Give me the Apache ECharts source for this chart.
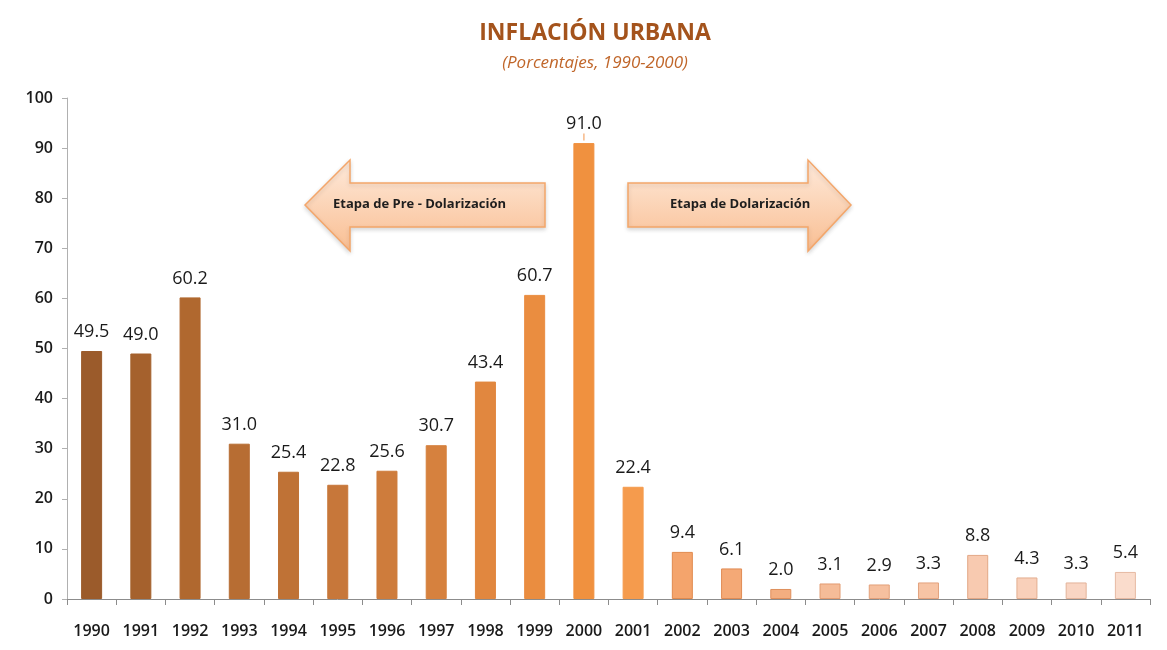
<!DOCTYPE html>
<html>
<head>
<meta charset="utf-8">
<script src="https://cdn.jsdelivr.net/npm/echarts@6/dist/echarts.min.js"></script>
<style>
  html, body { margin: 0; padding: 0; background: #fff; }
  #chart { width: 1167px; height: 650px; }
</style>
</head>
<body>
<div id="chart"></div>
<script>
// datos
var years = ["1990", "1991", "1992", "1993", "1994", "1995", "1996", "1997", "1998", "1999", "2000",
  "2001", "2002", "2003", "2004", "2005", "2006", "2007", "2008", "2009", "2010", "2011"];
var inflacion = [49.5, 49.0, 60.2, 31.0, 25.4, 22.8, 25.6, 30.7, 43.4, 60.7, 91.0,
  22.4, 9.4, 6.1, 2.0, 3.1, 2.9, 3.3, 8.8, 4.3, 3.3, 5.4];
var yTicks = [0, 10, 20, 30, 40, 50, 60, 70, 80, 90, 100];

// colores de cada barra (de cafe oscuro a durazno claro)
var barColors = ["#9B5B2B", "#A5612D", "#B0682F", "#B76D33", "#BF7236", "#C7773A", "#CE7C3C", "#D6813E",
  "#E1873F", "#EA8D40", "#F0913F", "#F59B4D", "#F4A46C", "#F4A976", "#F3AE80", "#F5BC98",
  "#F6C09F", "#F7C4A5", "#F8CAB0", "#F9D0BA", "#F9D5C3", "#FADCCC"];
var borderColors = ["#9B5B2B", "#A5612D", "#B0682F", "#B76D33", "#BF7236", "#C7773A", "#CE7C3C", "#D6813E",
  "#E1873F", "#EA8D40", "#F0913F", "#F59B4D", "#E08A4E", "#E08C55", "#DF8F5C", "#E39C72",
  "#E3A07A", "#E3A27E", "#E3A886", "#E3AE90", "#E3B39A", "#E6B9A2"];

var myChart = echarts.init(document.getElementById("chart"));

var seriesData = inflacion.map(function (v, i) {
  return {
    value: v,
    itemStyle: { color: barColors[i], borderColor: borderColors[i], borderWidth: 1 }
  };
});

function arrow(points) {
  return {
    type: "polygon",
    shape: { points: points },
    style: {
      fill: new echarts.graphic.LinearGradient(0, 0, 0, 1, [
        { offset: 0, color: "#FEEADB" },
        { offset: 1, color: "#F9BE92" }
      ]),
      stroke: "#F4A66A",
      lineWidth: 1.5,
      shadowBlur: 4,
      shadowColor: "rgba(0,0,0,0.15)",
      shadowOffsetY: 2
    },
    z: 5
  };
}

var option = {
  backgroundColor: "#fff",
  title: {
    text: "INFLACIÓN URBANA",
    subtext: "(Porcentajes, 1990-2000)",
    left: 590,
    textAlign: "center",
    top: 17,
    itemGap: 10,
    textStyle: {
      fontFamily: "Open Sans",
      fontWeight: "bold",
      fontSize: 23,
      color: "#A4531C"
    },
    subtextStyle: {
      fontFamily: "Open Sans",
      fontStyle: "italic",
      fontSize: 17,
      color: "#C0662A"
    }
  },
  grid: {
    left: 67,
    right: 17,
    top: 98,
    bottom: 51
  },
  xAxis: {
    type: "category",
    data: years,
    axisLine: { lineStyle: { color: "#8C8C8C" } },
    axisTick: { show: true, alignWithLabel: false, length: 6, lineStyle: { color: "#8C8C8C" } },
    axisLabel: {
      color: "#1A1A1A",
      fontFamily: "Open Sans",
      fontWeight: 600,
      fontSize: 16,
      margin: 24
    }
  },
  yAxis: {
    type: "value",
    min: 0,
    max: 100,
    interval: 10,
    splitLine: { show: false },
    axisLine: { show: true, lineStyle: { color: "#B0B0B0" } },
    axisTick: { show: true, length: 5, lineStyle: { color: "#B0B0B0" } },
    axisLabel: {
      color: "#1A1A1A",
      fontFamily: "Open Sans",
      fontWeight: 600,
      fontSize: 16,
      margin: 14,
      formatter: function (v) { return yTicks.indexOf(v) >= 0 ? String(v) : ""; }
    }
  },
  series: [
    {
      type: "bar",
      barWidth: 21,
      data: seriesData,
      label: {
        show: true,
        position: "top",
        distance: 10,
        color: "#1A1A1A",
        fontFamily: "Open Sans",
        fontWeight: 500,
        fontSize: 18,
        formatter: function (p) { return p.value.toFixed(1); }
      }
    },
    {
      // pequeña línea guía sobre la barra del 2000
      type: "scatter",
      symbol: "rect",
      symbolSize: [1.5, 7],
      symbolOffset: [0, -6],
      silent: true,
      z: 1,
      itemStyle: { color: "#F4A66A" },
      data: [[10, 91.0]]
    }
  ],
  graphic: [
    arrow([[305, 205], [350, 160], [350, 183], [545, 183], [545, 227], [350, 227], [350, 251]]),
    {
      type: "text",
      left: 333,
      top: 198,
      style: { text: "Etapa de Pre - Dolarización", fontFamily: "Open Sans", fontWeight: "bold", fontSize: 13, fill: "#1E1E1E" },
      z: 6
    },
    arrow([[628, 183], [808, 183], [808, 160], [851, 205], [808, 251], [808, 227], [628, 227]]),
    {
      type: "text",
      left: 670,
      top: 198,
      style: { text: "Etapa de Dolarización", fontFamily: "Open Sans", fontWeight: "bold", fontSize: 13, fill: "#1E1E1E" },
      z: 6
    }
  ]
};

myChart.setOption(option);
</script>
</body>
</html>
